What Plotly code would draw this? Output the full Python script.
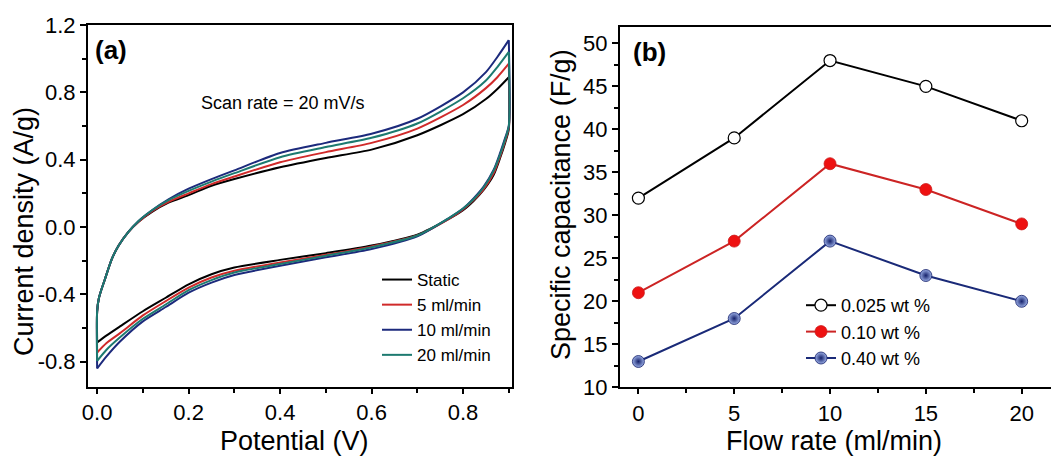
import plotly.graph_objects as go

# ---- (a) cyclic voltammograms at 20 mV/s ----
cv_labels = ["Static", "5 ml/min", "10 ml/min", "20 ml/min"]
cv_colors = ["#000000", "#d02a2a", "#1c2a7c", "#1d7a70"]

# forward (anodic) sweep, 0 -> 0.9 V
v_fwd = [0.0, 0.004, 0.017, 0.032, 0.047, 0.068, 0.09, 0.12, 0.156, 0.2,
         0.25, 0.3, 0.4, 0.5, 0.6, 0.7, 0.8, 0.85, 0.875, 0.9]
i_fwd_static = [-0.50, -0.42, -0.31, -0.19, -0.11, -0.03, 0.03, 0.09, 0.145, 0.19,
                0.245, 0.285, 0.355, 0.41, 0.46, 0.545, 0.67, 0.76, 0.82, 0.89]
i_fwd_5 = [-0.50, -0.42, -0.31, -0.19, -0.11, -0.03, 0.03, 0.095, 0.15, 0.20,
           0.255, 0.30, 0.385, 0.445, 0.50, 0.585, 0.725, 0.825, 0.89, 0.97]
i_fwd_10 = [-0.50, -0.42, -0.31, -0.19, -0.11, -0.03, 0.035, 0.10, 0.165, 0.228,
            0.285, 0.337, 0.44, 0.50, 0.554, 0.643, 0.80, 0.92, 1.01, 1.11]
i_fwd_20 = [-0.50, -0.42, -0.31, -0.19, -0.11, -0.03, 0.035, 0.10, 0.16, 0.215,
            0.27, 0.32, 0.415, 0.475, 0.53, 0.615, 0.765, 0.87, 0.95, 1.04]

# reverse (cathodic) sweep, 0.9 -> 0 V
v_rev = [0.9, 0.892, 0.881, 0.867, 0.845, 0.823, 0.8, 0.77, 0.7, 0.6,
         0.5, 0.4, 0.3, 0.25, 0.2, 0.15, 0.1, 0.05, 0.02, 0.0]
i_rev_static = [0.58, 0.50, 0.41, 0.31, 0.22, 0.155, 0.10, 0.05, -0.045, -0.11,
                -0.155, -0.195, -0.24, -0.28, -0.34, -0.42, -0.50, -0.59, -0.645, -0.685]
i_rev_5 = [0.59, 0.51, 0.42, 0.32, 0.225, 0.16, 0.105, 0.05, -0.05, -0.115,
           -0.165, -0.21, -0.26, -0.30, -0.36, -0.44, -0.525, -0.63, -0.69, -0.745]
i_rev_10 = [0.60, 0.53, 0.44, 0.34, 0.24, 0.17, 0.11, 0.055, -0.055, -0.13,
            -0.18, -0.23, -0.285, -0.33, -0.39, -0.475, -0.56, -0.68, -0.77, -0.84]
i_rev_20 = [0.60, 0.52, 0.43, 0.335, 0.235, 0.165, 0.11, 0.055, -0.05, -0.12,
            -0.17, -0.22, -0.27, -0.315, -0.375, -0.46, -0.545, -0.655, -0.73, -0.795]

cv_fwd = [i_fwd_static, i_fwd_5, i_fwd_10, i_fwd_20]
cv_rev = [i_rev_static, i_rev_5, i_rev_10, i_rev_20]

# tick labels of panel (a), written with a plain hyphen
pot_ticks = [0.0, 0.2, 0.4, 0.6, 0.8]
pot_ticktext = ["0.0", "0.2", "0.4", "0.6", "0.8"]
cur_ticks = [-0.8, -0.4, 0.0, 0.4, 0.8, 1.2]
cur_ticktext = ["-0.8", "-0.4", "0.0", "0.4", "0.8", "1.2"]

# ---- (b) specific capacitance vs flow rate ----
flow_rate = [0, 5, 10, 15, 20]
cap_0025 = [32, 39, 48, 45, 41]
cap_010 = [21, 27, 36, 33, 29]
cap_040 = [13, 18, 27, 23, 20]

FONT = "Liberation Sans, Arial, sans-serif"
W, H = 1051, 457

fig = go.Figure()

# each loop is drawn as two smooth branches so the switching corners stay sharp
for k in range(len(cv_labels)):
    fwd, rev = cv_fwd[k], cv_rev[k]
    # forward branch starts where the reverse sweep ended (vertical rise at 0 V)
    fig.add_trace(go.Scatter(
        x=[v_rev[-1]] + v_fwd, y=[rev[-1]] + fwd,
        mode="lines", name=cv_labels[k], legendgroup=cv_labels[k],
        line=dict(color=cv_colors[k], width=2, shape="spline", smoothing=0.7),
        xaxis="x", yaxis="y", legend="legend",
    ))
    # reverse branch starts at the vertex current (vertical drop at 0.9 V)
    fig.add_trace(go.Scatter(
        x=[v_fwd[-1]] + v_rev, y=[fwd[-1]] + rev,
        mode="lines", name=cv_labels[k], legendgroup=cv_labels[k], showlegend=False,
        line=dict(color=cv_colors[k], width=2, shape="spline", smoothing=0.7),
        xaxis="x", yaxis="y", legend="legend",
    ))

fig.add_trace(go.Scatter(
    x=flow_rate, y=cap_0025, mode="lines+markers", name="0.025 wt %",
    line=dict(color="#000000", width=2),
    marker=dict(symbol="circle", size=12, color="#ffffff",
                line=dict(color="#000000", width=1.2)),
    xaxis="x2", yaxis="y2", legend="legend2",
))
fig.add_trace(go.Scatter(
    x=flow_rate, y=cap_010, mode="lines+markers", name="0.10 wt %",
    line=dict(color="#cc2424", width=2),
    marker=dict(symbol="circle", size=12, color="#ee1111",
                line=dict(color="#cc1a1a", width=0.8)),
    xaxis="x2", yaxis="y2", legend="legend2",
))
fig.add_trace(go.Scatter(
    x=flow_rate, y=cap_040, mode="lines+markers", name="0.40 wt %",
    line=dict(color="#1a2a78", width=2),
    marker=dict(symbol="circle", size=12, color="#9aaee6",
                gradient=dict(type="radial", color="#14206a"),
                line=dict(color="#14206a", width=0.8)),
    xaxis="x2", yaxis="y2", legend="legend2",
))

xa_dom = [88 / W, 512 / W]
ya_dom = [1 - 387 / H, 1 - 25 / H]
xb_dom = [620 / W, 1.0]
yb_dom = [1 - 387.3 / H, 1 - 27 / H]

xa_range = [-0.02, 0.907]
ya_range = [-0.95, 1.2]
xb_range = [-0.96, 21.53]
yb_range = [10, 51.9]

tickfont = dict(family=FONT, size=22, color="#000000")


def main_axis(dom, rng, dtick, minor_dtick, anchor, ticklen=6):
    return dict(domain=dom, range=rng, anchor=anchor, automargin=False,
                showgrid=False, zeroline=False,
                showline=True, linecolor="#000000", linewidth=2, mirror=True,
                ticks="outside", ticklen=ticklen, tickwidth=2, tickcolor="#000000",
                dtick=dtick, tick0=0, tickfont=tickfont,
                minor=dict(ticks="outside", ticklen=4, tickwidth=1.5,
                           tickcolor="#000000", tickmode="linear",
                           dtick=minor_dtick, tick0=0))


def mirror_axis(rng, dtick, minor_dtick, overlay, side, anchor):
    return dict(range=rng, overlaying=overlay, side=side, anchor=anchor,
                automargin=False,
                showgrid=False, zeroline=False, showline=False,
                ticks="inside", ticklen=6, tickwidth=2, tickcolor="#000000",
                dtick=dtick, tick0=0, showticklabels=False,
                minor=dict(ticks="inside", ticklen=4, tickwidth=1.5,
                           tickcolor="#000000", dtick=minor_dtick, tick0=0))


xa = main_axis(xa_dom, xa_range, 0.2, 0.1, "y", ticklen=5)
xa.update(tickmode="array", tickvals=pot_ticks, ticktext=pot_ticktext)
ya = main_axis(ya_dom, ya_range, 0.4, 0.2, "x")
ya.update(tickmode="array", tickvals=cur_ticks, ticktext=cur_ticktext)
xb = main_axis(xb_dom, xb_range, 5, 2.5, "y2", ticklen=5)
yb = main_axis(yb_dom, yb_range, 5, 2.5, "x2")

xa3 = mirror_axis(xa_range, 0.2, 0.1, "x", "top", "y")
ya3 = mirror_axis(ya_range, 0.4, 0.2, "y", "right", "x")
xb4 = mirror_axis(xb_range, 5, 2.5, "x2", "top", "y2")
yb4 = mirror_axis(yb_range, 5, 2.5, "y2", "right", "x2")

annotations = [
    dict(text="<b>(a)</b>", x=93 / W, y=1 - 50 / H, xref="paper", yref="paper",
         xanchor="left", yanchor="middle", showarrow=False,
         font=dict(family=FONT, size=26, color="#000000")),
    dict(text="<b>(b)</b>", x=631 / W, y=1 - 52 / H, xref="paper", yref="paper",
         xanchor="left", yanchor="middle", showarrow=False,
         font=dict(family=FONT, size=26, color="#000000")),
    dict(text="Scan rate = 20 mV/s", x=283 / W, y=1 - 103 / H, xref="paper", yref="paper",
         xanchor="center", yanchor="middle", showarrow=False,
         font=dict(family=FONT, size=18, color="#000000")),
    dict(text="Potential (V)", x=294 / W, y=1 - 441 / H, xref="paper", yref="paper",
         xanchor="center", yanchor="middle", showarrow=False,
         font=dict(family=FONT, size=27, color="#000000")),
    dict(text="Flow rate (ml/min)", x=834 / W, y=1 - 441 / H, xref="paper", yref="paper",
         xanchor="center", yanchor="middle", showarrow=False,
         font=dict(family=FONT, size=27, color="#000000")),
    dict(text="Current density (A/g)", x=24 / W, y=1 - 232 / H, xref="paper", yref="paper",
         xanchor="center", yanchor="middle", showarrow=False, textangle=-90,
         font=dict(family=FONT, size=27, color="#000000")),
    dict(text="Specific capacitance (F/g)", x=561 / W, y=1 - 205 / H, xref="paper", yref="paper",
         xanchor="center", yanchor="middle", showarrow=False, textangle=-90,
         font=dict(family=FONT, size=27, color="#000000")),
]

fig.update_layout(
    width=W, height=H, margin=dict(l=0, r=0, t=0, b=0, pad=0, autoexpand=False),
    paper_bgcolor="#ffffff", plot_bgcolor="#ffffff",
    font=dict(family=FONT, color="#000000"),
    xaxis=xa, yaxis=ya, xaxis2=xb, yaxis2=yb,
    xaxis3=xa3, yaxis3=ya3, xaxis4=xb4, yaxis4=yb4,
    annotations=annotations,
    legend=dict(x=377 / W, y=1 - 262 / H, xanchor="left", yanchor="top",
                bgcolor="rgba(0,0,0,0)", borderwidth=0,
                font=dict(family=FONT, size=17, color="#000000"),
                tracegroupgap=0, itemwidth=30),
    legend2=dict(x=801 / W, y=1 - 287 / H, xanchor="left", yanchor="top",
                 bgcolor="rgba(0,0,0,0)", borderwidth=0,
                 font=dict(family=FONT, size=18, color="#000000"),
                 tracegroupgap=0, itemwidth=30),
    showlegend=True,
)

fig.write_html("out.html")
